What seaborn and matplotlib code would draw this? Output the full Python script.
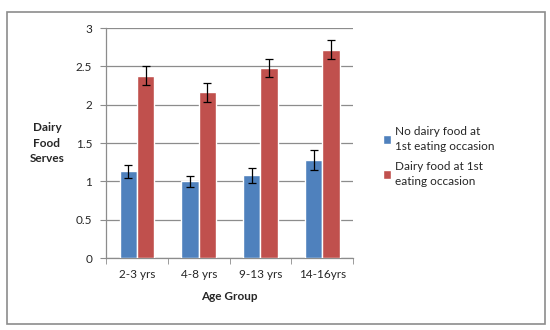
import pandas as pd
import matplotlib
matplotlib.use("Agg")
import matplotlib.pyplot as plt
import seaborn as sns
from matplotlib.patches import Rectangle

# data
age_groups = ["2-3 yrs", "4-8 yrs", "9-13 yrs", "14-16yrs"]
series = ["No dairy food at\n1st eating occasion", "Dairy food at 1st\neating occasion"]
no_dairy = [1.13, 1.00, 1.08, 1.28]
no_dairy_err = [0.085, 0.075, 0.10, 0.135]
dairy = [2.38, 2.16, 2.48, 2.72]
dairy_err = [0.125, 0.12, 0.12, 0.13]
y_ticks = [0, 0.5, 1, 1.5, 2, 2.5, 3]
y_tick_labels = ["0", "0.5", "1", "1.5", "2", "2.5", "3"]

df = pd.DataFrame({
    "age": age_groups * 2,
    "group": [series[0]] * 4 + [series[1]] * 4,
    "serves": no_dairy + dairy,
})

sns.set_style("white")
plt.rcParams["font.family"] = ["Lato", "DejaVu Sans"]

fig = plt.figure(figsize=(5.5, 3.3), dpi=100)
ax = fig.add_axes([0.193, 0.218, 0.449, 0.697])

sns.barplot(data=df, x="age", y="serves", hue="group", order=age_groups,
            hue_order=series, palette=["#4F81BD", "#C0504D"], saturation=1,
            width=0.56, errorbar=None, ax=ax, zorder=3)

# error bars on top of each bar
for cont, errs in zip(ax.containers, [no_dairy_err, dairy_err]):
    xs = [p.get_x() + p.get_width() / 2 for p in cont.patches]
    ys = [p.get_height() for p in cont.patches]
    ax.errorbar(xs, ys, yerr=errs, fmt="none", ecolor="black",
                elinewidth=0.9, capsize=3, capthick=0.9, zorder=4)

ax.set_ylim(0, 3)
ax.set_xlim(-0.5, 3.5)
ax.set_yticks(y_ticks)
ax.set_yticklabels(y_tick_labels)
ax.yaxis.grid(True, color="#8c8c8c", linewidth=0.9)
ax.set_axisbelow(True)
for s in ["top", "right"]:
    ax.spines[s].set_visible(False)
for s in ["left", "bottom"]:
    ax.spines[s].set_color("#8c8c8c")
    ax.spines[s].set_linewidth(0.9)

ax.tick_params(axis="y", length=4, color="#8c8c8c", left=True, labelsize=8.5, pad=6)
ax.tick_params(axis="x", length=0, labelsize=8.5, pad=8)
ax.set_xticks([-0.5, 0.5, 1.5, 2.5, 3.5], minor=True)
ax.tick_params(axis="x", which="minor", length=4, color="#8c8c8c", bottom=True)

ax.set_xlabel("Age Group", fontsize=8.5, fontweight="bold", labelpad=8)
ax.set_ylabel("Dairy\nFood\nServes", fontsize=8.5, fontweight="bold",
              rotation=0, va="center", ha="center", linespacing=1.5)
ax.yaxis.set_label_coords(-0.24, 0.5)

leg = ax.legend(loc="upper left", bbox_to_anchor=(0.685, 0.635),
                bbox_transform=fig.transFigure, frameon=False, fontsize=8.5,
                handlelength=0.7, handleheight=0.7, handletextpad=0.35,
                labelspacing=0.8, borderpad=0)
for t in leg.get_texts():
    t.set_linespacing(1.4)

# outer chart border
fig.add_artist(Rectangle((0.013, 0.018), 0.978, 0.945, transform=fig.transFigure,
                         fill=False, edgecolor="#8c8c8c", linewidth=1.2))

fig.savefig("out.png", dpi=100, facecolor="white")
